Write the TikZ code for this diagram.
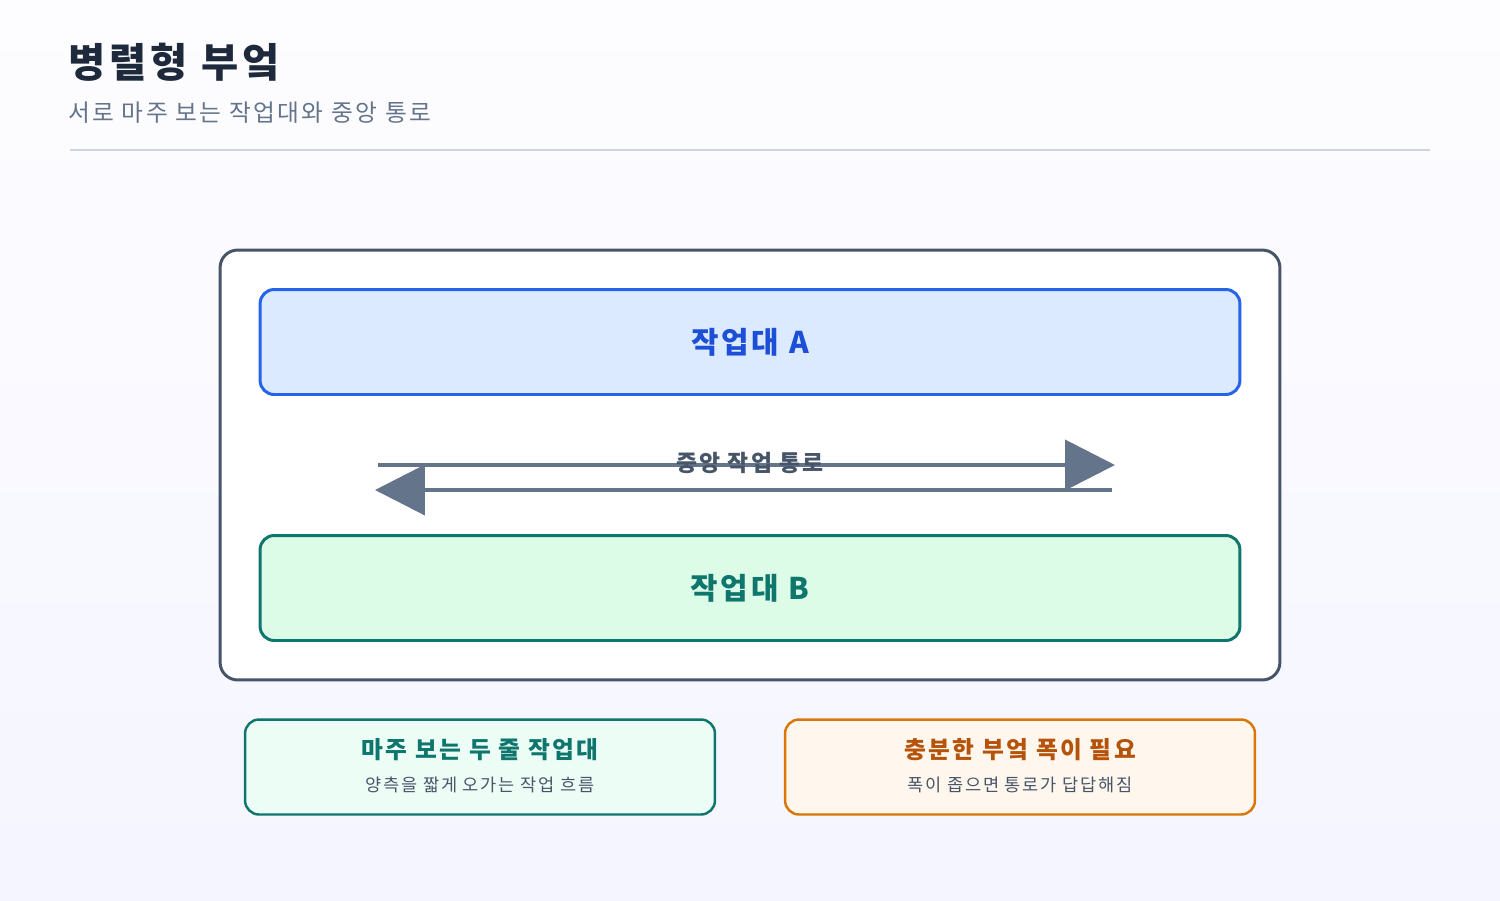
\documentclass[tikz,border=0pt]{standalone}
\usepackage{fontspec}
\setmainfont{Noto Sans CJK KR}[LetterSpace=10]
\usetikzlibrary{arrows.meta,positioning}
\definecolor{inkdark}{HTML}{1E293B}
\definecolor{inkgray}{HTML}{64748B}
\definecolor{slate}{HTML}{475569}
\definecolor{rulegray}{HTML}{CBD5E1}
\definecolor{bluefill}{HTML}{DBEAFE}
\definecolor{bluedraw}{HTML}{2563EB}
\definecolor{bluetext}{HTML}{1D4ED8}
\definecolor{greenfill}{HTML}{DCFCE7}
\definecolor{tealdraw}{HTML}{0F766E}
\definecolor{mintfill}{HTML}{ECFDF5}
\definecolor{orangefill}{HTML}{FFF7ED}
\definecolor{orangedraw}{HTML}{D97706}
\definecolor{orangetext}{HTML}{B45309}
\tikzset{
  station/.style={draw, line width=1.7pt, rounded corners=8pt, minimum width=19.6cm, minimum height=2.1cm, font=\fontsize{17}{19}\selectfont\bfseries},
  card/.style={draw, line width=1.4pt, rounded corners=8pt, minimum width=9.4cm, minimum height=1.9cm},
  aisle/.style={draw=inkgray, line width=2.3pt, -{Triangle[length=1cm,width=1cm]}}
}
\begin{document}
\begin{tikzpicture}[x=0.02cm,y=-0.02cm]
    % Background
    \shade[top color=white!60!blue!2, bottom color=blue!4] (0,0) rectangle (1500,900);
    \useasboundingbox (0,0) rectangle (1500,900);

    % Header
    \node[anchor=west, text=inkdark, font=\fontsize{23}{26}\selectfont\bfseries] (title) at (62,62) {병렬형 부엌};
    \node[anchor=west, text=inkgray, font=\fontsize{13.5}{16}\selectfont] (subtitle) at (62,113) {서로 마주 보는 작업대와 중앙 통로};
    \draw[rulegray, line width=1.7pt] (70,150) -- (1430,150);

    % Kitchen outline
    \node[draw=slate, fill=white, line width=1.7pt, rounded corners=10pt, minimum width=21.2cm, minimum height=8.6cm] (room) at (750,465) {};

    % Counters
    \node[station, fill=bluefill, draw=bluedraw, text=bluetext] (counterA) at (750,342) {작업대 A};
    \node[station, fill=greenfill, draw=tealdraw, text=tealdraw] (counterB) at (750,588) {작업대 B};

    % Aisle
    \coordinate (aisleW1) at (378,465);
    \coordinate (aisleE1) at (1115,465);
    \coordinate (aisleE2) at (1112,490);
    \coordinate (aisleW2) at (375,490);
    \draw[aisle] (aisleW1) -- (aisleE1);
    \draw[aisle] (aisleE2) -- (aisleW2);
    \node[text=slate, font=\fontsize{13}{15}\selectfont\bfseries] (aisleLabel) at (750,463) {중앙 작업 통로};

    % Notes
    \node[card, fill=mintfill, draw=tealdraw] (noteL) at (480,767) {};
    \node[text=tealdraw, font=\fontsize{13.5}{15}\selectfont\bfseries] at (480,750) {마주 보는 두 줄 작업대};
    \node[text=slate, font=\fontsize{10}{11}\selectfont] at (480,785) {양측을 짧게 오가는 작업 흐름};

    \node[card, fill=orangefill, draw=orangedraw] (noteR) at (1020,767) {};
    \node[text=orangetext, font=\fontsize{13.5}{15}\selectfont\bfseries] at (1020,750) {충분한 부엌 폭이 필요};
    \node[text=slate, font=\fontsize{10}{11}\selectfont] at (1020,785) {폭이 좁으면 통로가 답답해짐};
\end{tikzpicture}
\end{document}
